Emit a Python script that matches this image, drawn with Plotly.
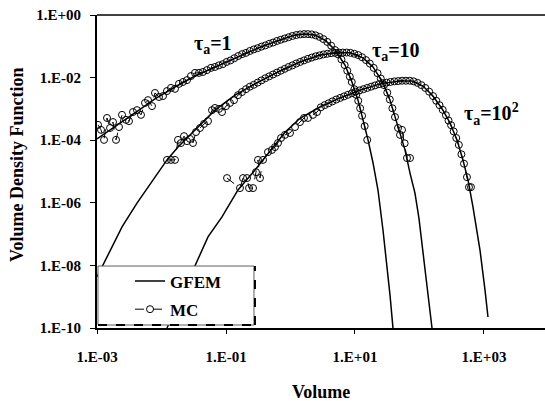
import numpy as np
import plotly.graph_objects as go

# ---------------- data (log10 of Volume, log10 of density) ----------------
# GFEM curves
g1_lx = [-3.000, -2.721, -2.411, -2.101, -1.791, -1.481, -1.171, -0.860, -0.783, -0.473, -0.163, 0.070, 0.225,
         0.380, 0.535, 0.690, 0.845, 0.953, 1.047, 1.124, 1.202, 1.279, 1.357, 1.434, 1.496, 1.543, 1.589]
g1_ly = [-3.96, -3.58, -3.13, -2.68, -2.30, -1.95, -1.66, -1.37, -1.30, -1.03, -0.80, -0.64, -0.61,
         -0.64, -0.80, -1.12, -1.60, -2.14, -2.72, -3.35, -3.99, -4.72, -5.60, -6.87, -7.99, -8.95, -10.0]

g2_lx = [-3.000, -2.907, -2.612, -2.380, -2.132, -1.915, -1.744, -1.481, -1.171, -0.860, -0.473, -0.163, 0.147,
         0.457, 0.721, 0.922, 1.124, 1.279, 1.434, 1.543, 1.620, 1.698, 1.775, 1.853, 1.930, 1.992, 2.054, 2.116, 2.194]
g2_ly = [-8.37, -7.99, -6.77, -6.01, -5.27, -4.63, -4.22, -3.67, -3.04, -2.56, -2.11, -1.79, -1.50,
         -1.28, -1.21, -1.21, -1.37, -1.66, -2.17, -2.72, -3.26, -3.77, -4.31, -5.05, -5.69, -6.50, -7.50, -8.65, -10.0]

g3_lx = [-1.915, -1.698, -1.481, -1.279, -1.062, -0.814, -0.550, -0.318, -0.085, 0.147, 0.457, 0.767, 1.078,
         1.388, 1.698, 1.884, 2.054, 2.209, 2.364, 2.473, 2.581, 2.674, 2.752, 2.829, 2.938, 3.016, 3.062]
g3_ly = [-10.0, -9.01, -7.99, -7.09, -6.45, -5.59, -4.95, -4.35, -3.75, -3.30, -2.94, -2.65, -2.40,
         -2.20, -2.11, -2.11, -2.27, -2.59, -3.04, -3.45, -3.99, -4.63, -5.27, -6.13, -7.51, -8.79, -9.65]

# MC points
mc1_lx = [-2.984, -2.938, -2.891, -2.845, -2.798, -2.752, -2.705, -2.659, -2.612, -2.550, -2.504, -2.442, -2.380,
          -2.318, -2.256, -2.209, -2.147, -2.101, -2.039, -1.977, -1.915, -1.853, -1.791, -1.729, -1.667, -1.605,
          -1.543, -1.481, -1.419, -1.357, -1.295, -1.233, -1.171,
          -1.11, -1.05, -0.99, -0.93, -0.87, -0.81, -0.75, -0.69, -0.63, -0.57, -0.51, -0.45, -0.39, -0.33, -0.27,
          -0.21, -0.15, -0.09, -0.03, 0.03, 0.09, 0.15, 0.21, 0.27, 0.33, 0.39, 0.45, 0.51, 0.57, 0.63, 0.69,
          0.74, 0.79, 0.84, 0.88, 0.92, 0.95, 0.99, 1.02, 1.05, 1.08, 1.11, 1.15, 1.19]
mc1_ly = [-3.51, -3.67, -3.99, -3.29, -3.61, -3.42, -3.99, -3.58, -3.19, -3.35, -3.39, -3.10, -3.04,
          -3.19, -2.81, -2.72, -2.91, -2.49, -2.62, -2.59, -2.43, -2.33, -2.36, -2.20, -2.14, -2.08,
          -1.95, -1.85, -1.85, -1.82, -1.76, -1.69, -1.66,
          -1.61, -1.57, -1.50, -1.45, -1.38, -1.31, -1.25, -1.21, -1.15, -1.10, -1.06, -1.01, -0.97, -0.92, -0.88,
          -0.83, -0.79, -0.75, -0.71, -0.67, -0.64, -0.62, -0.61, -0.61, -0.62, -0.65, -0.70, -0.77, -0.86, -0.98, -1.12,
          -1.26, -1.42, -1.60, -1.78, -1.97, -2.14, -2.37, -2.55, -2.74, -2.98, -3.22, -3.55, -3.99]

mc2_lx = [-1.915, -1.853, -1.791, -1.744, -1.698, -1.651, -1.605, -1.558, -1.512, -1.465, -1.403, -1.341, -1.279,
          -1.217, -1.171, -1.109, -1.062, -1.000, -0.938, -0.876, -0.814, -0.752,
          -0.69, -0.63, -0.57, -0.51, -0.45, -0.39, -0.33, -0.27, -0.21, -0.15, -0.09, -0.03, 0.03, 0.09, 0.15,
          0.21, 0.27, 0.33, 0.39, 0.45, 0.51, 0.57, 0.63, 0.69, 0.75, 0.81, 0.87, 0.93, 0.99, 1.05, 1.11, 1.17,
          1.23, 1.29, 1.35, 1.40, 1.45, 1.50, 1.54, 1.58, 1.62, 1.667, 1.698, 1.729, 1.77, 1.806, 1.853]
mc2_ly = [-4.63, -4.63, -4.63, -3.99, -4.09, -3.87, -4.03, -3.96, -4.09, -3.74, -3.61, -3.48, -3.39,
          -3.04, -2.97, -3.00, -3.10, -2.91, -2.81, -2.72, -2.56, -2.46,
          -2.37, -2.29, -2.23, -2.16, -2.09, -2.02, -1.96, -1.90, -1.84, -1.78, -1.72, -1.66, -1.61, -1.55, -1.50,
          -1.45, -1.40, -1.36, -1.32, -1.29, -1.26, -1.24, -1.22, -1.21, -1.20, -1.20, -1.20, -1.21, -1.24, -1.28,
          -1.35, -1.44, -1.55, -1.69, -1.86, -2.03, -2.24, -2.48, -2.70, -2.98, -3.26, -3.61, -3.83, -3.67, -4.10,
          -4.57, -4.57]

mc3_lx = [-0.984, -0.783, -0.736, -0.674, -0.643, -0.581, -0.535, -0.504, -0.473, -0.426, -0.349, -0.287, -0.240,
          -0.194, -0.147, -0.085, -0.008, 0.070, 0.147, 0.209, 0.271, 0.349, 0.411,
          0.47, 0.53, 0.59, 0.65, 0.71, 0.77, 0.83, 0.89, 0.95, 1.01, 1.07, 1.13, 1.19, 1.25, 1.31, 1.37, 1.43,
          1.49, 1.55, 1.61, 1.67, 1.73, 1.79, 1.85, 1.91, 1.97, 2.03, 2.09, 2.15, 2.21, 2.26, 2.31, 2.36, 2.41,
          2.45, 2.49, 2.53, 2.57, 2.61, 2.65, 2.69, 2.736, 2.767, 2.798]
mc3_ly = [-5.21, -5.53, -5.21, -5.21, -5.53, -5.53, -5.02, -4.63, -5.21, -4.63, -4.38, -4.31, -4.22,
          -4.09, -3.93, -3.83, -3.77, -3.58, -3.42, -3.29, -3.29, -3.19, -3.10,
          -2.95, -2.88, -2.82, -2.76, -2.70, -2.65, -2.60, -2.55, -2.50, -2.45, -2.41, -2.37, -2.33, -2.29, -2.25,
          -2.21, -2.18, -2.16, -2.14, -2.12, -2.11, -2.10, -2.10, -2.10, -2.12, -2.17, -2.24, -2.33, -2.45, -2.59,
          -2.74, -2.88, -3.03, -3.20, -3.37, -3.52, -3.72, -3.93, -4.15, -4.45, -4.75, -5.18, -5.50, -5.50]

x_tickvals = [1e-3, 1e-1, 1e1, 1e3]
x_ticktext = ["1.E-03", "1.E-01", "1.E+01", "1.E+03"]
y_tickvals = [1e0, 1e-2, 1e-4, 1e-6, 1e-8, 1e-10]
y_ticktext = ["1.E+00", "1.E-02", "1.E-04", "1.E-06", "1.E-08", "1.E-10"]

curve_labels = ["τ<sub>a</sub>=1", "τ<sub>a</sub>=10", "τ<sub>a</sub>=10<sup>2</sup>"]
label_pos_lx = [-1.53, 1.233, 2.659]
label_pos_ly = [-0.93, -1.18, -3.16]

# ---------------- figure ----------------
FONT = "Liberation Serif, Times New Roman, serif"
fig = go.Figure()

mc_sets = [(mc1_lx, mc1_ly), (mc2_lx, mc2_ly), (mc3_lx, mc3_ly)]
g_sets = [(g1_lx, g1_ly), (g2_lx, g2_ly), (g3_lx, g3_ly)]

for i, (lx, ly) in enumerate(mc_sets):
    fig.add_trace(go.Scatter(
        x=10 ** np.array(lx), y=10 ** np.array(ly), mode="lines+markers", name="MC",
        legendgroup="mc", showlegend=(i == 0), legendrank=2,
        line=dict(color="black", width=1, dash="dash"),
        marker=dict(symbol="circle-open", size=7, color="black", line=dict(width=1, color="black")),
    ))
for i, (lx, ly) in enumerate(g_sets):
    fig.add_trace(go.Scatter(
        x=10 ** np.array(lx), y=10 ** np.array(ly), mode="lines", name="GFEM",
        legendgroup="gfem", showlegend=(i == 0), legendrank=1,
        line=dict(color="black", width=1.5),
    ))

annotations = []
for t, ax_, ay_ in zip(curve_labels, label_pos_lx, label_pos_ly):
    annotations.append(dict(x=ax_, y=ay_, xref="x", yref="y", text=t, showarrow=False,
                            xanchor="left", yanchor="middle",
                            font=dict(family=FONT, size=20, color="black", weight="bold")))
annotations.append(dict(x=0.5, y=-0.205, xref="paper", yref="paper", text="Volume", showarrow=False,
                        xanchor="center", yanchor="middle",
                        font=dict(family=FONT, size=18, color="black", weight="bold")))
annotations.append(dict(x=-0.1786, y=0.521, xref="paper", yref="paper", text="Volume Density Function",
                        showarrow=False, textangle=-90, xanchor="center", yanchor="middle",
                        font=dict(family=FONT, size=18, color="black", weight="bold")))

shapes = [
    # top border of plot area
    dict(type="line", xref="paper", yref="paper", x0=0, x1=1, y0=1, y1=1,
         line=dict(color="black", width=1.5), layer="above"),
    # legend box
    dict(type="rect", xref="paper", yref="paper", x0=0.0022, x1=0.3504, y0=0.0096, y1=0.198,
         fillcolor="white", line=dict(color="#606060", width=1), layer="above"),
    dict(type="line", xref="paper", yref="paper", x0=0.0022, x1=0.3526, y0=0.0096, y1=0.0096,
         line=dict(color="black", width=2, dash="dash"), layer="above"),
    dict(type="line", xref="paper", yref="paper", x0=0.3526, x1=0.3526, y0=0.0096, y1=0.198,
         line=dict(color="black", width=2, dash="dash"), layer="above"),
]

fig.update_layout(
    width=545, height=401,
    margin=dict(l=97, r=0, t=15, b=73),
    paper_bgcolor="white", plot_bgcolor="white",
    font=dict(family=FONT, color="black"),
    showlegend=True,
    legend=dict(x=0.0737, y=0.206, xanchor="left", yanchor="top",
                bgcolor="rgba(0,0,0,0)", borderwidth=0, tracegroupgap=3,
                font=dict(family=FONT, size=17, color="black", weight="bold")),
    annotations=annotations,
    shapes=shapes,
)
fig.update_xaxes(type="log", range=[-3, 3.946], showgrid=False, zeroline=False,
                 showline=True, linecolor="black", linewidth=2, mirror=False,
                 ticks="outside", ticklen=4, tickwidth=1, tickcolor="black",
                 tickvals=x_tickvals, ticktext=x_ticktext, ticklabelstandoff=10,
                 tickfont=dict(family=FONT, size=15, color="black", weight="bold"))
fig.update_yaxes(type="log", range=[-10, 0], showgrid=False, zeroline=False,
                 showline=True, linecolor="black", linewidth=2, mirror=False,
                 ticks="outside", ticklen=5, tickwidth=1, tickcolor="black",
                 tickvals=y_tickvals, ticktext=y_ticktext, ticklabelstandoff=6,
                 tickfont=dict(family=FONT, size=15, color="black", weight="bold"))

fig.write_html("out.html", config={"displayModeBar": False},
               post_script="document.body.style.margin='0';")
